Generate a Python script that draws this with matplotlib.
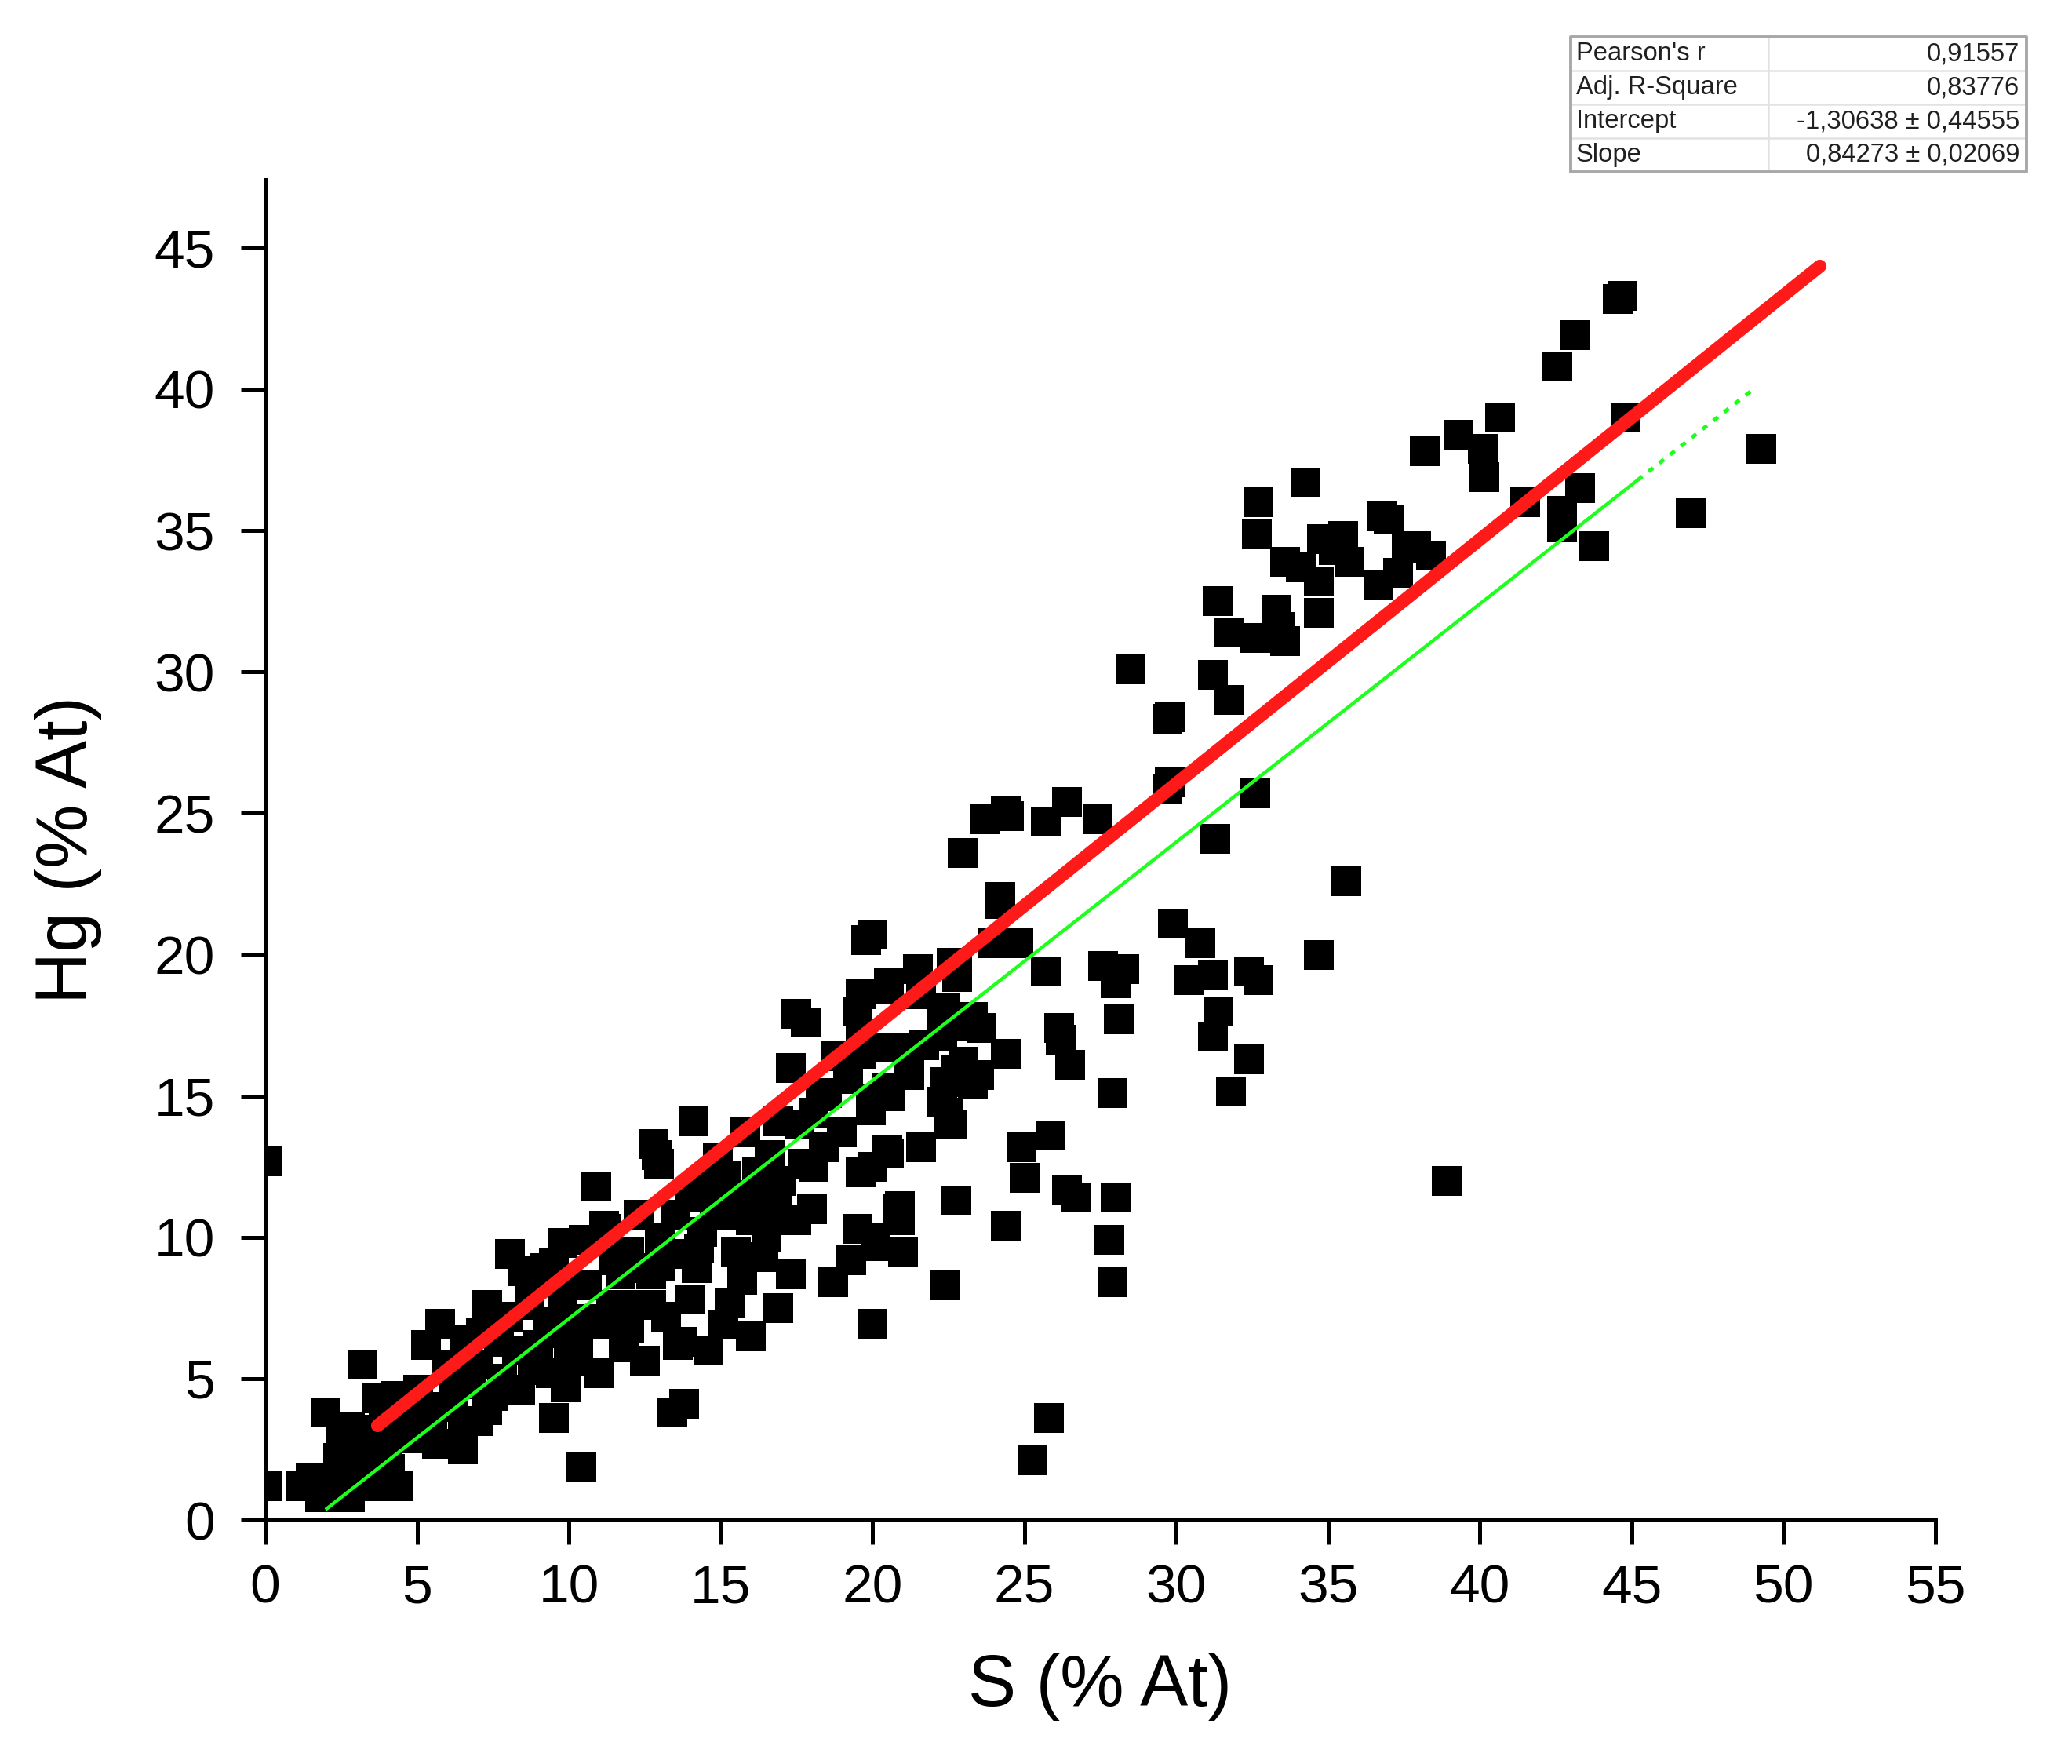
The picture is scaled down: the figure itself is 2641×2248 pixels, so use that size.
import matplotlib

matplotlib.use("Agg")
import matplotlib.pyplot as plt  # noqa: E402

plt.rcParams["font.family"] = ["Liberation Sans", "DejaVu Sans"]

# fit statistics shown in the box (Origin style, comma decimals)
stat_names = ["Pearson's r", "Adj. R-Square", "Intercept", "Slope"]
stat_values = ["0,91557", "0,83776", "-1,30638 \u00b1 0,44555", "0,84273 \u00b1 0,02069"]
fit_intercept = -1.30638
fit_slope = 0.84273
fit_x_solid = [2.03, 45.2]
fit_x_dotted = [45.2, 49.1]

# red reference line (end points)
red_x = [3.7, 51.2]
red_y = [3.34, 44.35]

# data points, S (% At) vs Hg (% At), grouped by S range
s_0_5 = [0.05, 0.05, 1.2, 1.5, 1.8, 2.2, 2.8, 2.0, 2.5, 2.8, 2.4, 3.0, 3.2, 2.6, 3.3,
         3.0, 2.2, 3.5, 3.7, 4.3, 4.4, 3.9, 4.0, 4.5, 4.8, 3.4, 4.1, 4.9, 3.6]
hg_0_5 = [12.7, 1.2, 1.2, 1.5, 0.8, 0.8, 0.8, 3.8, 2.9, 3.3, 2.2, 1.6, 5.5, 1.6, 2.6,
          2.3, 1.5, 3.2, 4.3, 4.4, 1.2, 3.5, 2.6, 3.3, 4.0, 1.2, 1.8, 2.9, 2.0]

s_5_10 = [5.05, 5.3, 5.75, 5.65, 6.5, 6.0, 6.6, 7.3, 7.7, 7.3, 8.06, 8.5, 9.2, 9.8,
          8.8, 9.9, 9.5, 10.4, 5.5, 6.2, 6.8, 7.0, 7.8, 8.3, 8.0, 8.7, 9.3, 9.0, 9.6,
          10.0, 10.0, 7.5, 5.8, 6.5, 8.4, 9.4, 9.8, 6.3, 7.1, 8.7, 9.5, 5.2, 7.0]
hg_5_10 = [4.6, 6.2, 6.95, 2.7, 2.5, 5.5, 6.4, 7.6, 6.3, 3.9, 9.4, 8.8, 8.9, 9.8,
           5.3, 4.7, 3.6, 1.9, 3.7, 4.3, 4.8, 5.5, 5.0, 6.0, 7.2, 7.6, 7.0, 6.2, 6.6,
           8.3, 5.6, 4.4, 4.0, 3.4, 4.6, 5.2, 7.6, 5.0, 6.6, 8.2, 9.1, 3.1, 3.5]

s_10_15 = [10.9, 11.16, 12.97, 12.8, 12.9, 14.1, 10.5, 11.2, 11.7, 11.4, 10.4, 11.0,
           11.85, 11.8, 12.5, 13.6, 13.75, 13.4, 13.8, 12.7, 12.7, 12.3, 13.6, 14.2,
           14.6, 15.1, 12.0, 13.0, 13.5, 14.0, 14.5, 14.8, 14.4, 12.3, 11.5, 10.6,
           13.2, 14.0, 10.3, 12.0, 11.0, 13.0, 14.3, 15.0, 15.2, 14.9]
hg_10_15 = [11.8, 10.4, 12.6, 13.3, 12.9, 14.1, 9.9, 10.3, 8.7, 7.6, 7.1, 6.95,
            7.6, 6.1, 5.65, 6.2, 6.3, 3.8, 4.1, 8.7, 7.6, 8.9, 9.4, 8.9,
            6.0, 6.9, 9.5, 10.0, 10.8, 11.4, 12.0, 11.2, 10.2, 10.8, 9.2, 8.3,
            7.2, 7.8, 6.2, 6.8, 5.2, 9.0, 9.6, 10.8, 12.2, 12.8]

s_15_20 = [15.5, 16.0, 16.85, 18.0, 18.05, 15.8, 16.9, 18.05, 18.3, 18.5, 17.6, 17.3,
           17.5, 17.8, 16.0, 16.9, 17.3, 18.7, 19.3, 19.5, 20.1, 19.6, 20.0, 20.5,
           19.95, 20.5, 19.6, 20.3, 19.5, 19.6, 19.8, 20.0, 20.55, 20.55, 19.95, 20.6,
           20.0, 20.1, 16.2, 16.6, 15.4, 16.3, 17.0, 17.7, 18.4, 19.0, 19.2, 18.8,
           16.5, 17.5, 15.7, 16.4, 15.3, 19.6]
hg_15_20 = [9.5, 10.6, 11.0, 11.0, 12.5, 13.7, 14.1, 14.4, 15.0, 15.1, 14.0, 16.0,
            17.9, 17.6, 6.5, 7.5, 8.7, 8.4, 9.2, 10.3, 10.0, 12.3, 12.5, 13.1,
            14.9, 15.3, 16.5, 16.7, 18.0, 18.6, 20.5, 20.7, 19.0, 18.8, 14.5, 15.0,
            6.95, 9.7, 12.3, 12.9, 11.5, 11.6, 12.0, 12.6, 13.2, 13.7, 15.6, 16.4,
            10.0, 10.6, 8.5, 9.3, 7.7, 17.2]

s_20_25 = [20.9, 20.9, 21.0, 22.4, 22.75, 20.85, 21.6, 20.55, 22.5, 22.6, 22.5, 22.3,
           23.3, 23.5, 22.4, 22.75, 21.2, 21.2, 21.7, 20.8, 22.3, 23.2, 22.3, 22.4,
           23.6, 23.3, 24.4, 21.5, 22.8, 22.6, 22.8, 23.95, 24.8, 24.2, 24.2, 22.96,
           23.7, 24.4, 24.5, 24.4, 24.9, 25.0, 21.2, 22.4, 21.6, 23.0, 25.26, 25.8]
hg_20_25 = [11.1, 10.6, 9.5, 8.3, 11.3, 11.0, 13.2, 12.97, 14.0, 14.0, 14.4, 14.8,
            15.4, 15.75, 15.5, 15.9, 15.8, 16.6, 16.8, 16.7, 17.1, 17.5, 18.0, 17.6,
            17.4, 17.8, 16.5, 19.5, 19.55, 19.7, 19.2, 20.4, 20.4, 21.8, 22.05, 23.6,
            24.8, 25.1, 24.9, 10.4, 13.2, 12.1, 15.75, 18.1, 18.6, 16.2, 2.1, 3.6]

s_25_30 = [25.85, 26.4, 26.7, 28.0, 27.8, 27.9, 27.9, 26.15, 26.5, 28.1, 27.6, 28.3,
           28.0, 25.7, 25.7, 26.4, 27.4, 28.5, 29.7, 29.7, 29.9, 26.2, 29.8, 29.8]
hg_25_30 = [13.6, 11.7, 11.4, 11.4, 9.9, 8.4, 15.1, 17.4, 16.1, 17.7, 19.6, 19.5,
            19.0, 19.4, 24.7, 25.4, 24.8, 30.1, 28.35, 25.85, 21.1, 17.0, 28.4, 26.1]

s_30_35 = [30.8, 31.2, 30.4, 31.4, 31.2, 32.4, 31.8, 32.4, 32.7, 31.3, 32.6, 34.7,
           35.6, 31.2, 31.75, 31.36, 31.75, 32.6, 33.3, 33.6, 33.4, 32.65, 32.7, 34.25,
           33.6, 34.1, 34.8, 35.5, 35.7, 34.7, 34.7, 35.2]
hg_30_35 = [20.4, 19.3, 19.1, 18.0, 17.1, 16.3, 15.15, 19.4, 19.1, 24.1, 25.7, 20.0,
            22.6, 29.9, 29.0, 32.5, 31.4, 31.2, 32.2, 31.1, 31.6, 34.9, 36.0, 36.7,
            33.9, 33.7, 34.7, 34.8, 33.9, 33.2, 32.1, 34.3]

s_35_50 = [36.8, 37.0, 37.6, 38.4, 36.66, 37.3, 38.2, 39.3, 40.1, 40.15, 40.67, 41.5,
           42.56, 43.16, 44.54, 44.7, 44.8, 43.3, 42.7, 42.7, 43.77, 46.95, 49.28,
           38.9, 37.9]
hg_35_50 = [35.5, 35.4, 34.4, 34.1, 33.1, 33.5, 37.8, 38.4, 37.9, 36.9, 39.0, 36.0,
            40.8, 41.9, 43.2, 43.3, 39.0, 36.5, 35.7, 35.1, 34.45, 35.6, 37.9,
            12.0, 34.45]

x_ticks = list(range(0, 56, 5))
y_ticks = list(range(0, 46, 5))

fig = plt.figure(figsize=(13.205, 11.24), dpi=200)
ax = fig.add_axes((0.128, 0.1383, 0.806, 0.7597))

s_all = s_0_5 + s_5_10 + s_10_15 + s_15_20 + s_20_25 + s_25_30 + s_30_35 + s_35_50
hg_all = hg_0_5 + hg_5_10 + hg_10_15 + hg_15_20 + hg_20_25 + hg_25_30 + hg_30_35 + hg_35_50
ax.plot(s_all, hg_all, linestyle="none", marker="s", markersize=13.5,
        markerfacecolor="black", markeredgewidth=0, zorder=2)

# linear fit (green), dotted at its far end
fit_y_solid = [fit_intercept + fit_slope * v for v in fit_x_solid]
fit_y_dotted = [fit_intercept + fit_slope * v for v in fit_x_dotted]
ax.plot(fit_x_solid, fit_y_solid, color="#1eff1e", linewidth=1.6, zorder=3)
ax.plot(fit_x_dotted, fit_y_dotted, color="#1eff1e", linewidth=1.8,
        linestyle=(0, (1.5, 2.0)), zorder=3)
ax.plot(red_x, red_y, color="#ff1a1a", linewidth=6, solid_capstyle="round", zorder=4)

ax.set_xlim(0, 55)
ax.set_ylim(0, 47.4)
ax.set_xticks(x_ticks)
ax.set_yticks(y_ticks)
ax.spines["top"].set_visible(False)
ax.spines["right"].set_visible(False)
for side in ("left", "bottom"):
    ax.spines[side].set_linewidth(1.8)
ax.tick_params(axis="both", direction="out", length=11, width=1.8,
               labelsize=25, pad=9)
ax.tick_params(axis="y", pad=12)
ax.set_xlabel("S (% At)", fontsize=33, labelpad=18)
ax.set_ylabel("Hg (% At)", fontsize=33, labelpad=24)

# statistics box at the top right
tab = fig.add_axes((0.758, 0.9026, 0.22, 0.0764))
tab.set_xlim(0, 1)
tab.set_ylim(0, 4)
tab.axis("off")
for k in range(1, 4):
    tab.plot([0, 1], [k, k], color="#e2e2e2", linewidth=0.9)
tab.plot([0.434, 0.434], [0, 4], color="#e2e2e2", linewidth=0.9)
tab.plot([0, 1, 1, 0, 0], [0, 0, 4, 4, 0], color="#a8a8a8", linewidth=1.4,
         clip_on=False)
for k, (name, val) in enumerate(zip(stat_names, stat_values)):
    yc = 3.5 - k
    tab.text(0.012, yc, name, ha="left", va="center", fontsize=11.8, color="#202020")
    tab.text(0.985, yc, val, ha="right", va="center", fontsize=11.8, color="#202020")

fig.savefig("out.png", dpi=200, facecolor="white")
plt.close(fig)
